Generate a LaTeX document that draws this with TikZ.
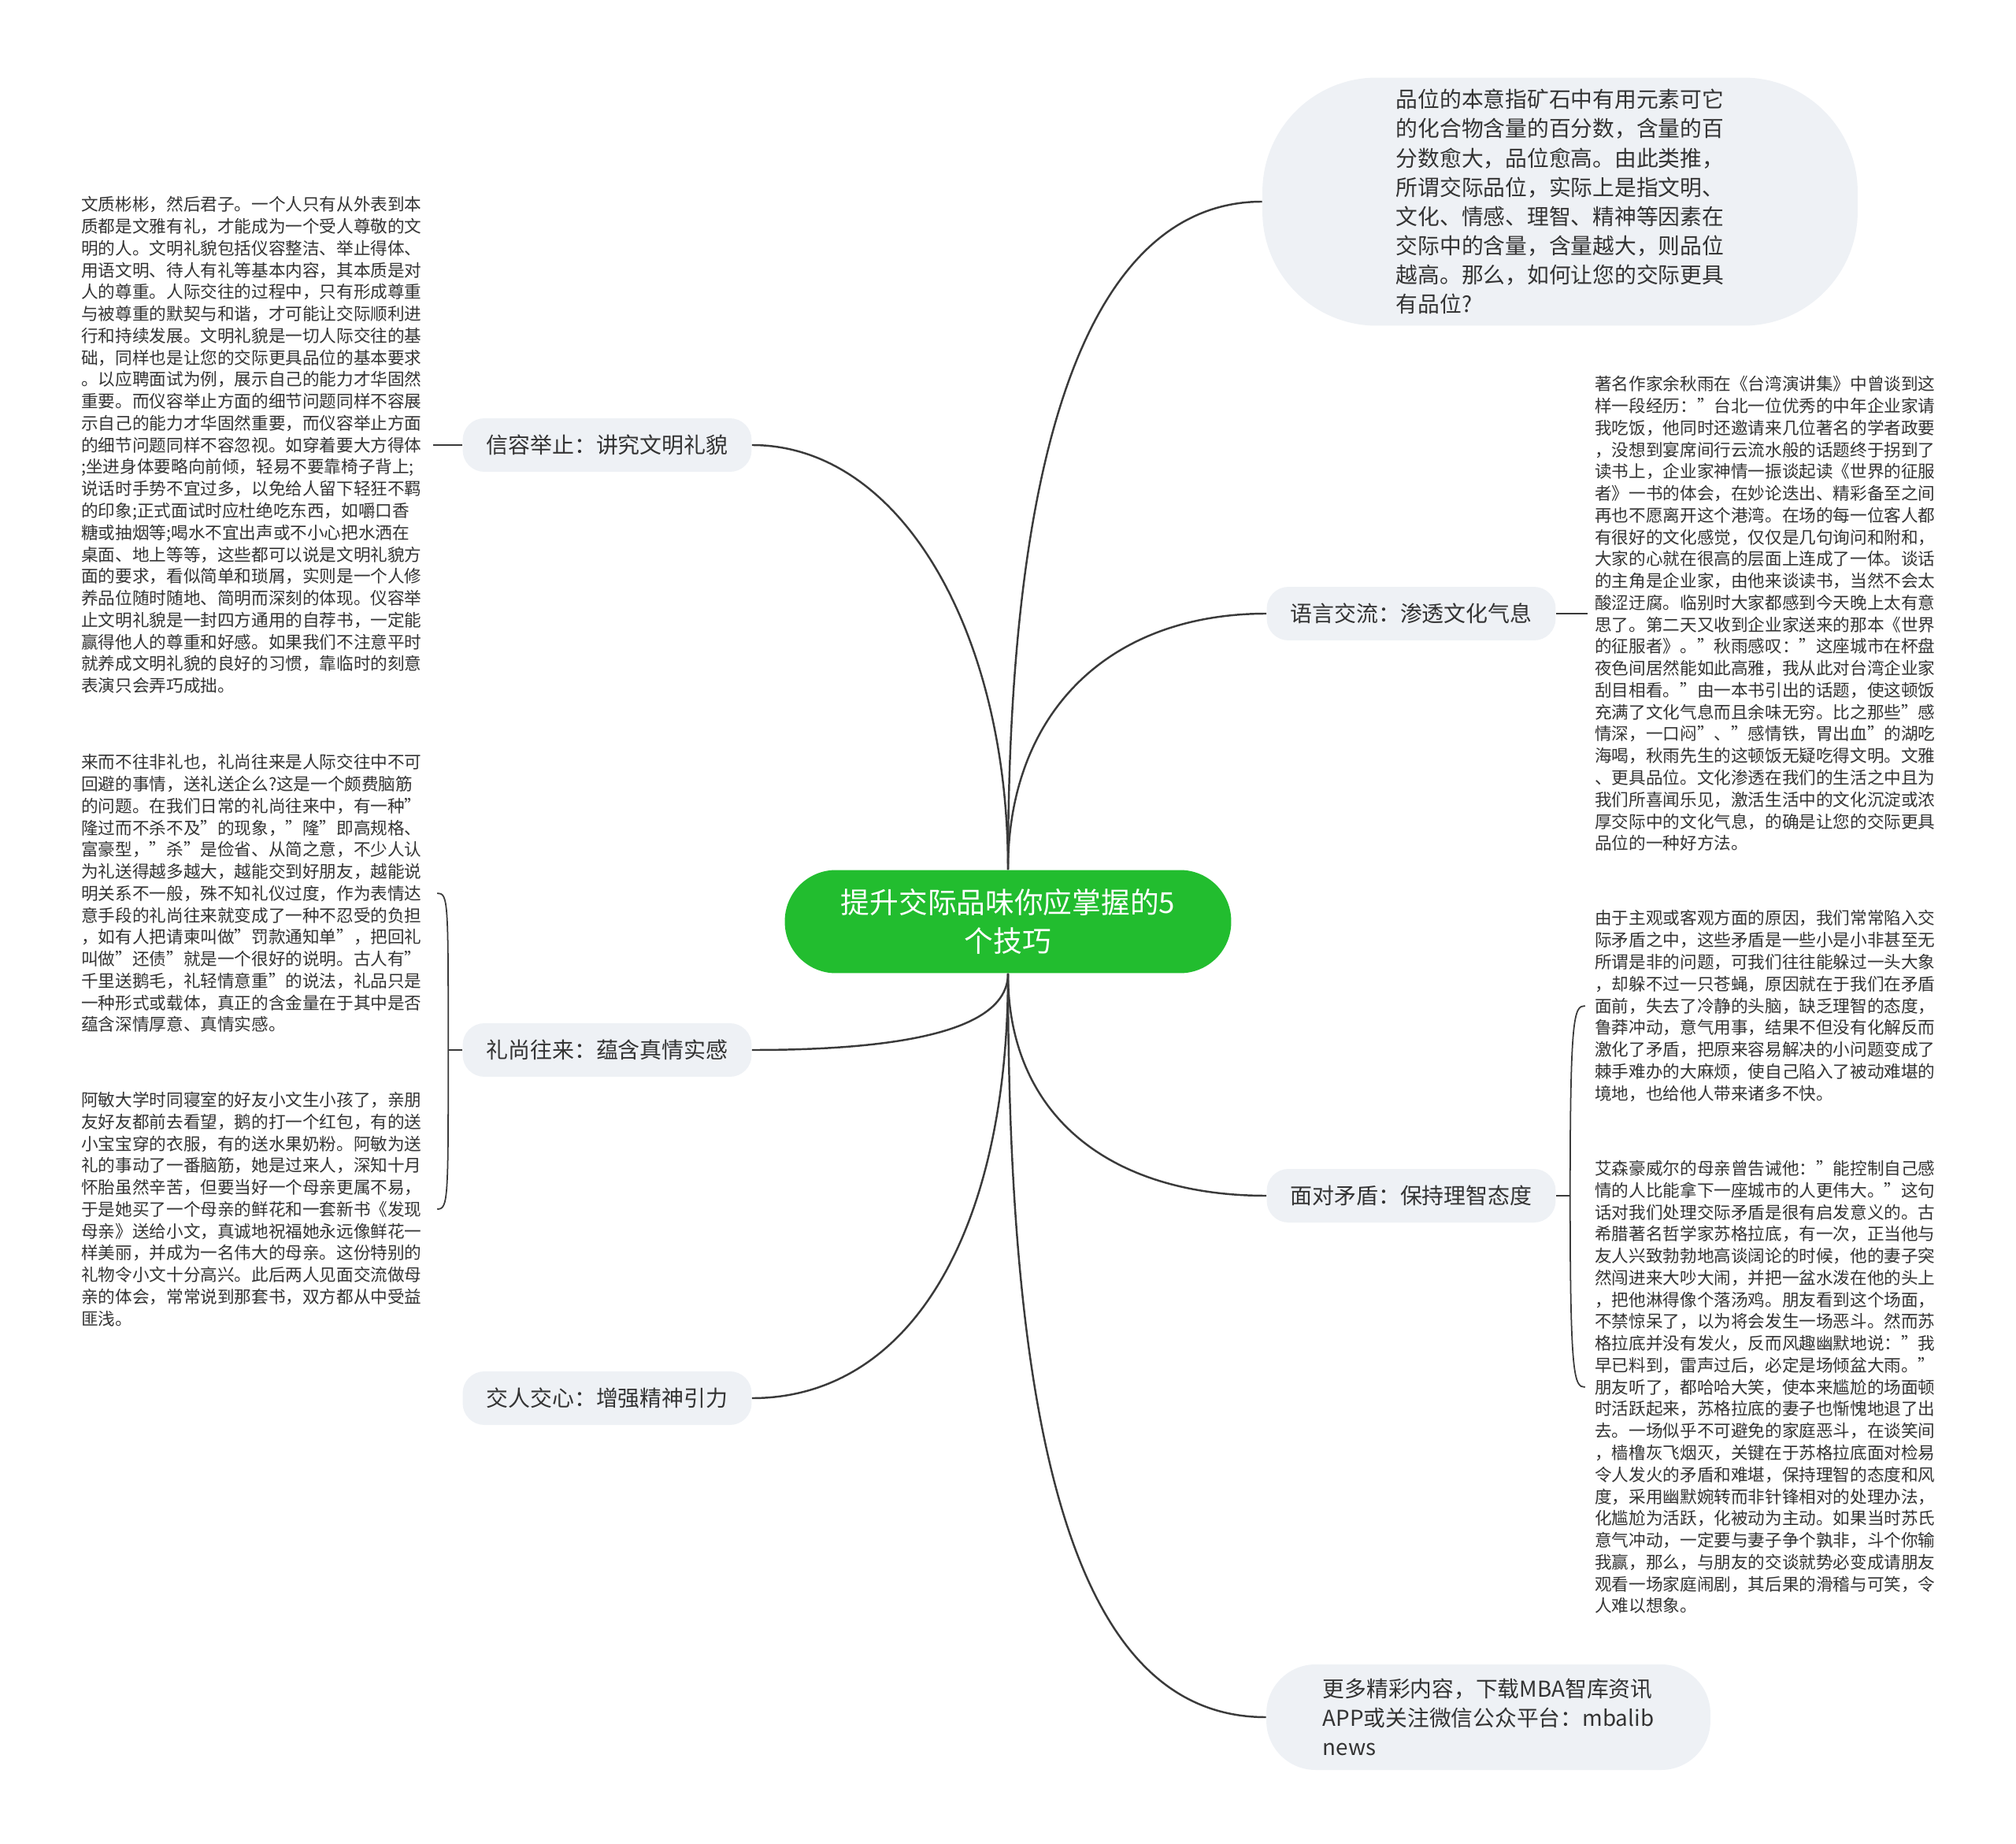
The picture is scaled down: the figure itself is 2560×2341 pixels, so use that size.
\documentclass[tikz,border=0pt]{standalone}
\usepackage{fontspec}
\setmainfont{Noto Sans CJK SC}
\usepackage{xcolor}
\usetikzlibrary{positioning,calc}
\definecolor{MapGreen}{HTML}{22BD2F}
\definecolor{MapGrey}{HTML}{EEF1F5}
\definecolor{MapInk}{HTML}{333333}
\definecolor{MapLine}{HTML}{3A3A3A}
\tikzset{
  rootbox/.style={fill=MapGreen,rounded corners=1.3cm,minimum width=11.34cm,minimum height=2.62cm,align=center,text=white,inner sep=0pt,font=\fontsize{20.9pt}{27.9pt}\selectfont},
  topicbox/.style={fill=MapGrey,rounded corners=0.55cm,minimum width=7.34cm,minimum height=1.36cm,text=MapInk,inner sep=0pt,font=\fontsize{15.9pt}{21pt}\selectfont},
  bubblebox/.style={fill=MapGrey,text=MapInk,align=left,inner sep=0pt,font=\fontsize{15.8pt}{21.1pt}\selectfont},
  leaftext/.style={text=MapInk,align=left,text width=247pt,inner sep=0pt,font=\fontsize{12.3pt}{15.8pt}\selectfont},
  mainlink/.style={draw=MapLine,line width=1.4pt},
  leaflink/.style={draw=MapLine,line width=1pt}
}

\begin{document}
\begin{tikzpicture}[x=0.02cm,y=-0.02cm]
\useasboundingbox (0,0) rectangle (2560,2341);

% root
\node[rootbox] (C) at (1280,1170) {提升交际品味你应掌握的5\\个技巧};

% topics
\node[topicbox] (B1) at (771,565) {信容举止：讲究文明礼貌};
\node[topicbox] (B2) at (771,1333) {礼尚往来：蕴含真情实感};
\node[topicbox] (B3) at (771,1775) {交人交心：增强精神引力};
\node[topicbox] (R2) at (1792,779) {语言交流：渗透文化气息};
\node[topicbox] (R3) at (1792,1518) {面对矛盾：保持理智态度};
\node[bubblebox,rounded corners=2.9cm,minimum width=15.12cm,minimum height=6.3cm] (R1) at (1981,256)
  {品位的本意指矿石中有用元素可它\\的化合物含量的百分数，含量的百\\分数愈大，品位愈高。由此类推，\\所谓交际品位，实际上是指文明、\\文化、情感、理智、精神等因素在\\交际中的含量，含量越大，则品位\\越高。那么，如何让您的交际更具\\有品位?};
\node[bubblebox,rounded corners=1.25cm,minimum width=11.28cm,minimum height=2.68cm] (R4) at (1890,2180)
  {更多精彩内容，下载MBA智库资讯\\APP或关注微信公众平台：mbalib\\news};

% leaf texts, left
\node[leaftext,anchor=west] (L1) at (103,565) {文质彬彬，然后君子。一个人只有从外表到本\\质都是文雅有礼，才能成为一个受人尊敬的文\\明的人。文明礼貌包括仪容整洁、举止得体、\\用语文明、待人有礼等基本内容，其本质是对\\人的尊重。人际交往的过程中，只有形成尊重\\与被尊重的默契与和谐，才可能让交际顺利进\\行和持续发展。文明礼貌是一切人际交往的基\\础，同样也是让您的交际更具品位的基本要求\\。以应聘面试为例，展示自己的能力才华固然\\重要。而仪容举止方面的细节问题同样不容展\\示自己的能力才华固然重要，而仪容举止方面\\的细节问题同样不容忽视。如穿着要大方得体\\;坐进身体要略向前倾，轻易不要靠椅子背上;\\说话时手势不宜过多，以免给人留下轻狂不羁\\的印象;正式面试时应杜绝吃东西，如嚼口香\\糖或抽烟等;喝水不宜出声或不小心把水洒在\\桌面、地上等等，这些都可以说是文明礼貌方\\面的要求，看似简单和琐屑，实则是一个人修\\养品位随时随地、简明而深刻的体现。仪容举\\止文明礼貌是一封四方通用的自荐书，一定能\\赢得他人的尊重和好感。如果我们不注意平时\\就养成文明礼貌的良好的习惯，靠临时的刻意\\表演只会弄巧成拙。};
\node[leaftext,anchor=west] (L2) at (103,1134) {来而不往非礼也，礼尚往来是人际交往中不可\\回避的事情，送礼送企么?这是一个颇费脑筋\\的问题。在我们日常的礼尚往来中，有一种”\\隆过而不杀不及”的现象，”隆”即高规格、\\富豪型，”杀”是俭省、从简之意，不少人认\\为礼送得越多越大，越能交到好朋友，越能说\\明关系不一般，殊不知礼仪过度，作为表情达\\意手段的礼尚往来就变成了一种不忍受的负担\\，如有人把请柬叫做”罚款通知单”，把回礼\\叫做”还债”就是一个很好的说明。古人有”\\千里送鹅毛，礼轻情意重”的说法，礼品只是\\一种形式或载体，真正的含金量在于其中是否\\蕴含深情厚意、真情实感。};
\node[leaftext,anchor=west] (L3) at (103,1535) {阿敏大学时同寝室的好友小文生小孩了，亲朋\\友好友都前去看望，鹅的打一个红包，有的送\\小宝宝穿的衣服，有的送水果奶粉。阿敏为送\\礼的事动了一番脑筋，她是过来人，深知十月\\怀胎虽然辛苦，但要当好一个母亲更属不易，\\于是她买了一个母亲的鲜花和一套新书《发现\\母亲》送给小文，真诚地祝福她永远像鲜花一\\样美丽，并成为一名伟大的母亲。这份特别的\\礼物令小文十分高兴。此后两人见面交流做母\\亲的体会，常常说到那套书，双方都从中受益\\匪浅。};

% leaf texts, right
\node[leaftext,anchor=west] (RT1) at (2025,779) {著名作家余秋雨在《台湾演讲集》中曾谈到这\\样一段经历：”台北一位优秀的中年企业家请\\我吃饭，他同时还邀请来几位著名的学者政要\\，没想到宴席间行云流水般的话题终于拐到了\\读书上，企业家神情一振谈起读《世界的征服\\者》一书的体会，在妙论迭出、精彩备至之间\\再也不愿离开这个港湾。在场的每一位客人都\\有很好的文化感觉，仅仅是几句询问和附和，\\大家的心就在很高的层面上连成了一体。谈话\\的主角是企业家，由他来谈读书，当然不会太\\酸涩迂腐。临别时大家都感到今天晚上太有意\\思了。第二天又收到企业家送来的那本《世界\\的征服者》。”秋雨感叹：”这座城市在杯盘\\夜色间居然能如此高雅，我从此对台湾企业家\\刮目相看。”由一本书引出的话题，使这顿饭\\充满了文化气息而且余味无穷。比之那些”感\\情深，一口闷”、”感情铁，胃出血”的湖吃\\海喝，秋雨先生的这顿饭无疑吃得文明。文雅\\、更具品位。文化渗透在我们的生活之中且为\\我们所喜闻乐见，激活生活中的文化沉淀或浓\\厚交际中的文化气息，的确是让您的交际更具\\品位的一种好方法。};
\node[leaftext,anchor=west] (RT2) at (2025,1277) {由于主观或客观方面的原因，我们常常陷入交\\际矛盾之中，这些矛盾是一些小是小非甚至无\\所谓是非的问题，可我们往往能躲过一头大象\\，却躲不过一只苍蝇，原因就在于我们在矛盾\\面前，失去了冷静的头脑，缺乏理智的态度，\\鲁莽冲动，意气用事，结果不但没有化解反而\\激化了矛盾，把原来容易解决的小问题变成了\\棘手难办的大麻烦，使自己陷入了被动难堪的\\境地，也给他人带来诸多不快。};
\node[leaftext,anchor=west] (RT3) at (2025,1761) {艾森豪威尔的母亲曾告诫他：”能控制自己感\\情的人比能拿下一座城市的人更伟大。”这句\\话对我们处理交际矛盾是很有启发意义的。古\\希腊著名哲学家苏格拉底，有一次，正当他与\\友人兴致勃勃地高谈阔论的时候，他的妻子突\\然闯进来大吵大闹，并把一盆水泼在他的头上\\，把他淋得像个落汤鸡。朋友看到这个场面，\\不禁惊呆了，以为将会发生一场恶斗。然而苏\\格拉底并没有发火，反而风趣幽默地说：”我\\早已料到，雷声过后，必定是场倾盆大雨。”\\朋友听了，都哈哈大笑，使本来尴尬的场面顿\\时活跃起来，苏格拉底的妻子也惭愧地退了出\\去。一场似乎不可避免的家庭恶斗，在谈笑间\\，樯橹灰飞烟灭，关键在于苏格拉底面对检易\\令人发火的矛盾和难堪，保持理智的态度和风\\度，采用幽默婉转而非针锋相对的处理办法，\\化尴尬为活跃，化被动为主动。如果当时苏氏\\意气冲动，一定要与妻子争个孰非，斗个你输\\我赢，那么，与朋友的交谈就势必变成请朋友\\观看一场家庭闹剧，其后果的滑稽与可笑，令\\人难以想象。};

% root to topics
\draw[mainlink] (C.north) .. controls +(0,-300) and +(190,0) .. (B1.east);
\draw[mainlink] (C.north) .. controls +(0,-680) and +(-160,0) .. (R1.west);
\draw[mainlink] (C.north) .. controls +(0,-200) and +(-200,0) .. (R2.west);
\draw[mainlink] (C.south) .. controls +(0,70) and +(200,0) .. (B2.east);
\draw[mainlink] (C.south) .. controls +(0,330) and +(200,0) .. (B3.east);
\draw[mainlink] (C.south) .. controls +(0,180) and +(-200,0) .. (R3.west);
\draw[mainlink] (C.south) .. controls +(0,660) and +(-220,0) .. (R4.west);

% topics to leaves
\draw[leaflink] (B1.west) -- ([xshift=7pt]L1.east);
\draw[leaflink] (R2.east) -- ([xshift=-5pt]RT1.west);
\draw[leaflink] (B2.west) -- ++(-18,0) coordinate (b2k);
\draw[leaflink] (b2k) .. controls +(0,-190) and +(14,0) .. ([xshift=10pt]L2.east);
\draw[leaflink] (b2k) .. controls +(0,190) and +(14,0) .. ([xshift=10pt]L3.east);
\draw[leaflink] (R3.east) -- ++(18,0) coordinate (r3k);
\draw[leaflink] (r3k) .. controls +(0,-230) and +(-14,0) .. ([xshift=-7pt]RT2.west);
\draw[leaflink] (r3k) .. controls +(0,230) and +(-14,0) .. ([xshift=-7pt]RT3.west);
\end{tikzpicture}
\end{document}
